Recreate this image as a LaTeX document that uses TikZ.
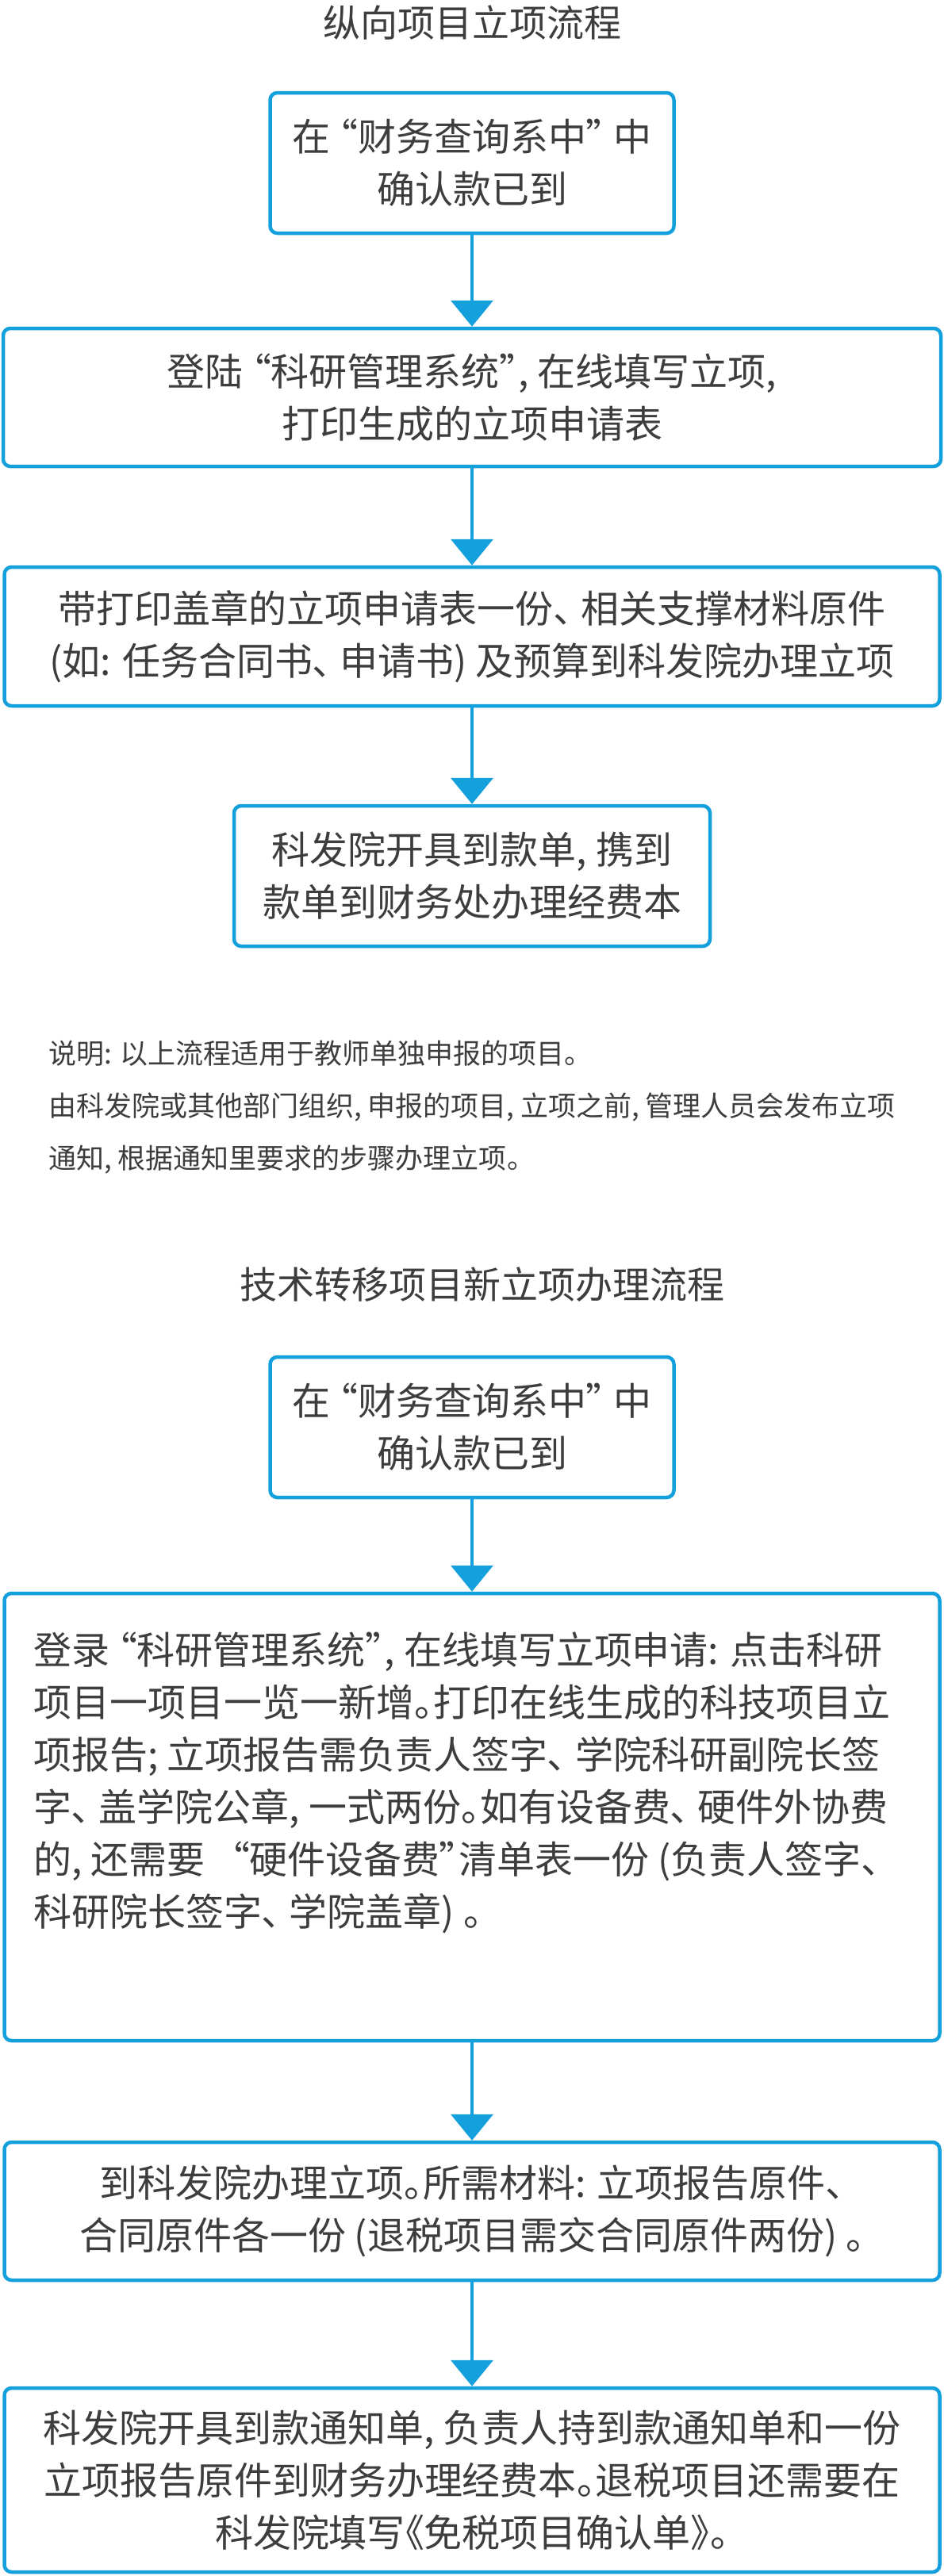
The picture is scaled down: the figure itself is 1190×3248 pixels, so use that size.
\documentclass[tikz,border=0pt]{standalone}
\usepackage{fontspec}
\setmainfont{Noto Sans CJK SC}[RawFeature={+palt}]
\usepackage{xcolor}
\usepackage{tikz}
\usetikzlibrary{arrows.meta}
\definecolor{FlowBlue}{RGB}{20,160,220}
\definecolor{TextGray}{RGB}{61,61,61}

\begin{document}
\begin{tikzpicture}[
  x=1pt, y=-1pt,
  >={Triangle[length=33pt,width=53pt]},
  line join=round,
  every node/.style={text=TextGray, inner sep=0pt, font=\fontsize{48pt}{66pt}\selectfont},
  flowbox/.style={draw=FlowBlue, line width=4.5pt, rounded corners=9pt, align=center},
  flowtitle/.style={font=\fontsize{47pt}{60pt}\selectfont},
  flowline/.style={->, draw=FlowBlue, line width=4pt}
]
  \useasboundingbox (0,0) rectangle (1190,3248);

  % Vertical project flow
  \node[flowtitle] (titleA) at (595,28) {纵向项目立项流程};
  \node[flowbox, minimum width=509pt, minimum height=177pt] (a1) at (595,205.5) {在 “财务查询系中” 中\\确认款已到};
  \node[flowbox, minimum width=1182pt, minimum height=174pt] (a2) at (595,501) {登陆 “科研管理系统”, 在线填写立项,\\打印生成的立项申请表};
  \node[flowbox, minimum width=1179pt, minimum height=175pt] (a3) at (595,802.5) {带打印盖章的立项申请表一份、 相关支撑材料原件\\(如: 任务合同书、 申请书) 及预算到科发院办理立项};
  \node[flowbox, minimum width=600pt, minimum height=177pt] (a4) at (595,1104.5) {科发院开具到款单, 携到\\款单到财务处办理经费本};

  % Remark below the first flow
  \node[anchor=north west, align=left, font=\fontsize{35pt}{66pt}\selectfont] (remark) at (61,1312) {说明: 以上流程适用于教师单独申报的项目。\\由科发院或其他部门组织, 申报的项目, 立项之前, 管理人员会发布立项\\通知, 根据通知里要求的步骤办理立项。};

  % Technology transfer flow
  \node[flowtitle] (titleB) at (608,1620) {技术转移项目新立项办理流程};
  \node[flowbox, minimum width=509pt, minimum height=177pt] (b1) at (595,1799.5) {在 “财务查询系中” 中\\确认款已到};
  \node[flowbox, minimum width=1179pt, minimum height=564pt] (b2) at (595,2291) {};
  \node[anchor=north west, align=left] (b2text) at (42,2058) {登录 “科研管理系统”, 在线填写立项申请: 点击科研\\项目一项目一览一新增。打印在线生成的科技项目立\\项报告; 立项报告需负责人签字、 学院科研副院长签\\字、 盖学院公章, 一式两份。如有设备费、 硬件外协费\\的, 还需要 \ \ “硬件设备费”清单表一份 (负责人签字、\\科研院长签字、 学院盖章) 。};
  \node[flowbox, minimum width=1179pt, minimum height=174pt] (b3) at (595,2788) {到科发院办理立项。所需材料: 立项报告原件、\\合同原件各一份 (退税项目需交合同原件两份) 。};
  \node[flowbox, minimum width=1179pt, minimum height=232pt] (b4) at (595,3127) {科发院开具到款通知单, 负责人持到款通知单和一份\\立项报告原件到财务办理经费本。退税项目还需要在\\科发院填写《免税项目确认单》。};

  \foreach \from/\to in {a1/a2, a2/a3, a3/a4, b1/b2, b2/b3, b3/b4}
    \draw[flowline] (\from.south) -- (\to.north);
\end{tikzpicture}
\end{document}
